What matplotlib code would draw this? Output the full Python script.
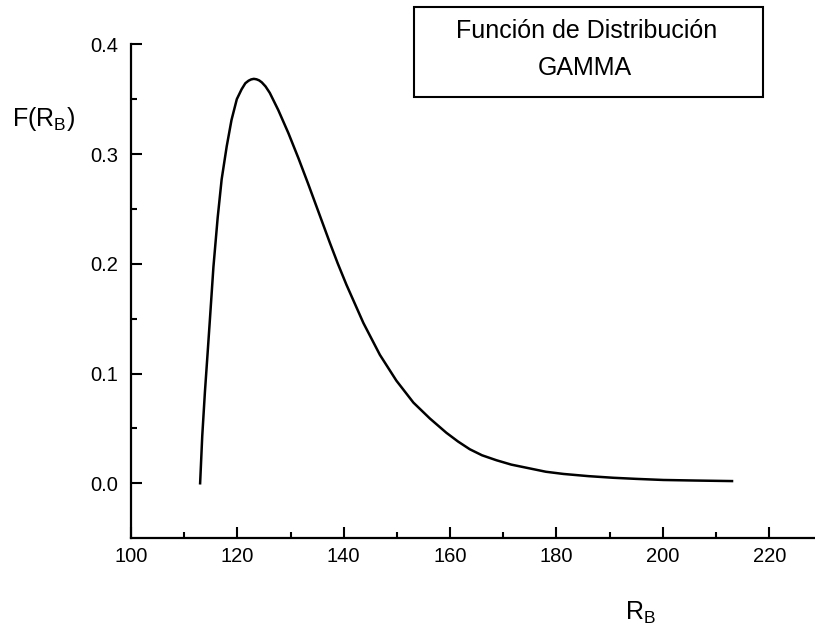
import matplotlib
matplotlib.use('Agg')
import matplotlib.pyplot as plt
from matplotlib.patches import Rectangle
from matplotlib.ticker import FixedLocator

plt.rcParams['font.family'] = ['Liberation Sans', 'DejaVu Sans']
plt.rcParams['mathtext.fontset'] = 'custom'
plt.rcParams['mathtext.rm'] = 'Liberation Sans'
plt.rcParams['mathtext.it'] = 'Liberation Sans:italic'
plt.rcParams['mathtext.bf'] = 'Liberation Sans:bold'

# datos
rb = [113.0, 113.4, 113.9, 114.4, 114.85, 115.5, 116.3, 117.05, 118.0, 118.9,
      119.9, 120.8, 121.5, 122.1, 122.6, 123.1, 123.6, 124.1, 124.6, 125.3,
      126.1, 127.7, 129.6, 131.5, 133.3, 135.2, 137.4, 138.9, 140.5, 143.7,
      146.8, 149.9, 153.1, 156.2, 159.3, 161.5, 163.7, 166.0, 168.7, 171.5,
      175.0, 178.0, 181.3, 186.0, 190.7, 195.0, 200.1, 206.0, 213.0]
f_rb = [0.0, 0.043, 0.083, 0.118, 0.150, 0.197, 0.242, 0.277, 0.307, 0.331,
        0.350, 0.359, 0.3645, 0.3668, 0.368, 0.3685, 0.3681, 0.3671, 0.3653, 0.3616,
        0.3557, 0.340, 0.319, 0.296, 0.273, 0.248, 0.219, 0.200, 0.181, 0.146,
        0.117, 0.0935, 0.0735, 0.059, 0.046, 0.038, 0.031, 0.0255, 0.021, 0.017,
        0.0135, 0.0105, 0.0085, 0.0065, 0.005, 0.004, 0.003, 0.0025, 0.002]

x_major = [100, 120, 140, 160, 180, 200, 220]
x_minor = [110, 130, 150, 170, 190, 210]
y_major = [0.0, 0.1, 0.2, 0.3, 0.4]
y_minor = [0.05, 0.15, 0.25, 0.35]

fig = plt.figure(figsize=(8.15, 6.3), dpi=100)
ax = fig.add_axes([0.1607, 0.1465, 0.8393, 0.7832])

ax.plot(rb, f_rb, color='black', linewidth=1.8, solid_joinstyle='round')

ax.set_xlim(100, 228.6)
ax.set_ylim(-0.0496, 0.4)

for s in ['top', 'right']:
    ax.spines[s].set_visible(False)
for s in ['left', 'bottom']:
    ax.spines[s].set_linewidth(1.6)

ax.xaxis.set_major_locator(FixedLocator(x_major))
ax.xaxis.set_minor_locator(FixedLocator(x_minor))
ax.yaxis.set_major_locator(FixedLocator(y_major))
ax.yaxis.set_minor_locator(FixedLocator(y_minor))
ax.set_xticklabels([str(v) for v in x_major])
ax.set_yticklabels(['%.1f' % v for v in y_major])

ax.tick_params(which='major', direction='in', length=8, width=1.5, labelsize=14.5)
ax.tick_params(which='minor', direction='in', length=4, width=1.5)
ax.tick_params(axis='x', which='major', pad=7)
ax.tick_params(axis='y', which='major', pad=9)

fig.text(0.0147, 0.80, r'F(R$_\mathrm{B}$)', fontsize=18, ha='left', va='baseline')
fig.text(0.7669, 0.0159, r'R$_\mathrm{B}$', fontsize=18, ha='left', va='baseline')

# recuadro del titulo
box = Rectangle((0.508, 0.846), 0.4282, 0.1429, transform=fig.transFigure,
                fill=False, edgecolor='black', linewidth=1.5)
fig.add_artist(box)
fig.text(0.7202, 0.9392, 'Función de Distribución', fontsize=18, ha='center', va='baseline')
fig.text(0.7178, 0.881, 'GAMMA', fontsize=18, ha='center', va='baseline')

fig.savefig('out.png', dpi=100)
